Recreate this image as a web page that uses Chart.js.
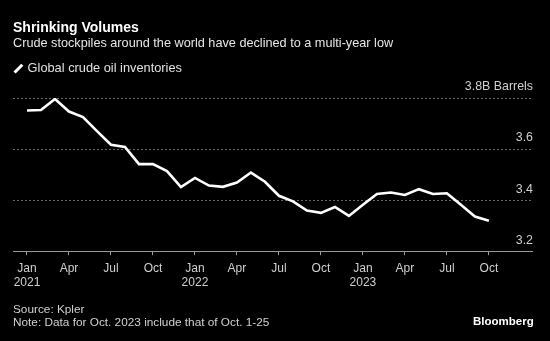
<!DOCTYPE html>
<html>
<head>
<meta charset="utf-8">
<script src="https://cdn.jsdelivr.net/npm/chart.js@4"></script>
<style>
  html, body { margin: 0; padding: 0; background: #000; }
  #wrap { position: relative; width: 550px; height: 341px; overflow: hidden; background: #000; font-family: "Liberation Sans", Arial, sans-serif; }
  #c { position: absolute; left: 0; top: 0; }
  .t { position: absolute; white-space: nowrap; line-height: 1; }
  #title { left: 13px; top: 20px; font-size: 14px; font-weight: bold; color: #fff; }
  #subtitle { left: 13px; top: 37px; font-size: 12.7px; color: #e6e6e6; }
  #legend { left: 13px; top: 62px; font-size: 12.8px; color: #e0e0e0; }
  #legend .sw { display: inline-block; width: 2.6px; height: 11px; background: #fff; transform: rotate(45deg); margin: 0 8px -1px 4px; vertical-align: -1px; }
  #source { left: 13px; top: 304px; font-size: 11.8px; color: #d0d0d0; }
  #note { left: 13px; top: 317px; font-size: 11.8px; color: #d0d0d0; }
  #logo { left: 473px; top: 316px; font-size: 11.5px; font-weight: bold; color: #fff; }
</style>
</head>
<body>
<div id="wrap">
  <canvas id="c" width="550" height="341"></canvas>
  <div class="t" id="title">Shrinking Volumes</div>
  <div class="t" id="subtitle">Crude stockpiles around the world have declined to a multi-year low</div>
  <div class="t" id="legend"><span class="sw"></span>Global crude oil inventories</div>
  <div class="t" id="source">Source: Kpler</div>
  <div class="t" id="note">Note: Data for Oct. 2023 include that of Oct. 1-25</div>
  <div class="t" id="logo">Bloomberg</div>
</div>
<script>
// ---- data ----
const months = [
  '2021-01','2021-02','2021-03','2021-04','2021-05','2021-06','2021-07','2021-08','2021-09','2021-10','2021-11','2021-12',
  '2022-01','2022-02','2022-03','2022-04','2022-05','2022-06','2022-07','2022-08','2022-09','2022-10','2022-11','2022-12',
  '2023-01','2023-02','2023-03','2023-04','2023-05','2023-06','2023-07','2023-08','2023-09','2023-10'
];
const inventory = [
  3.751, 3.753, 3.796, 3.747, 3.725, 3.670, 3.617, 3.608, 3.541, 3.541, 3.514, 3.451,
  3.487, 3.457, 3.452, 3.469, 3.508, 3.472, 3.417, 3.395, 3.359, 3.350, 3.373, 3.338,
  3.382, 3.424, 3.430, 3.420, 3.443, 3.424, 3.427, 3.382, 3.336, 3.319
];
const xTickMonths = ['2021-01','2021-04','2021-07','2021-10','2022-01','2022-04','2022-07','2022-10','2023-01','2023-04','2023-07','2023-10'];
const xTickLabels = [['Jan','2021'],'Apr','Jul','Oct',['Jan','2022'],'Apr','Jul','Oct',['Jan','2023'],'Apr','Jul','Oct'];
const yTickValues = [3.2, 3.4, 3.6, 3.8];
const yTickLabels = ['3.2', '3.4', '3.6', '3.8B Barrels'];
const seriesName = 'Global crude oil inventories';

// ---- chart ----
const points = inventory.map((v, i) => ({ x: i, y: v }));
const xTickIdx = xTickMonths.map(m => months.indexOf(m));

new Chart(document.getElementById('c'), {
  type: 'line',
  data: {
    datasets: [{
      label: seriesName,
      data: points,
      borderColor: '#ffffff',
      borderWidth: 2.6,
      pointRadius: 0,
      tension: 0,
      fill: false
    }]
  },
  options: {
    responsive: false,
    animation: false,
    layout: { padding: { top: 98, left: 13, right: 16, bottom: 45 } },
    plugins: { legend: { display: false }, tooltip: { enabled: false } },
    scales: {
      x: {
        type: 'linear',
        min: -1,
        max: 36.08,
        afterBuildTicks: s => { s.ticks = xTickIdx.map(v => ({ value: v })); },
        ticks: {
          autoSkip: false,
          maxRotation: 0,
          padding: 6,
          color: '#cfcfcf',
          font: { family: 'Liberation Sans', size: 12, lineHeight: 1.2 },
          callback: v => xTickLabels[xTickIdx.indexOf(v)]
        },
        grid: { drawOnChartArea: false, drawTicks: true, tickLength: 4, tickColor: '#999', tickWidth: 1 },
        border: { display: true, color: '#999', width: 1 }
      },
      y: {
        position: 'right',
        min: 3.2,
        max: 3.8,
        afterBuildTicks: s => { s.ticks = yTickValues.map(v => ({ value: v })); },
        ticks: {
          mirror: true,
          padding: 1,
          labelOffset: -11,
          color: '#cfcfcf',
          font: { family: 'Liberation Sans', size: 12.4 },
          callback: v => yTickLabels[yTickValues.indexOf(v)]
        },
        grid: { drawTicks: false, color: '#666', lineWidth: 1 },
        border: { display: false, dash: [2, 2] }
      }
    }
  }
});
</script>
</body>
</html>
